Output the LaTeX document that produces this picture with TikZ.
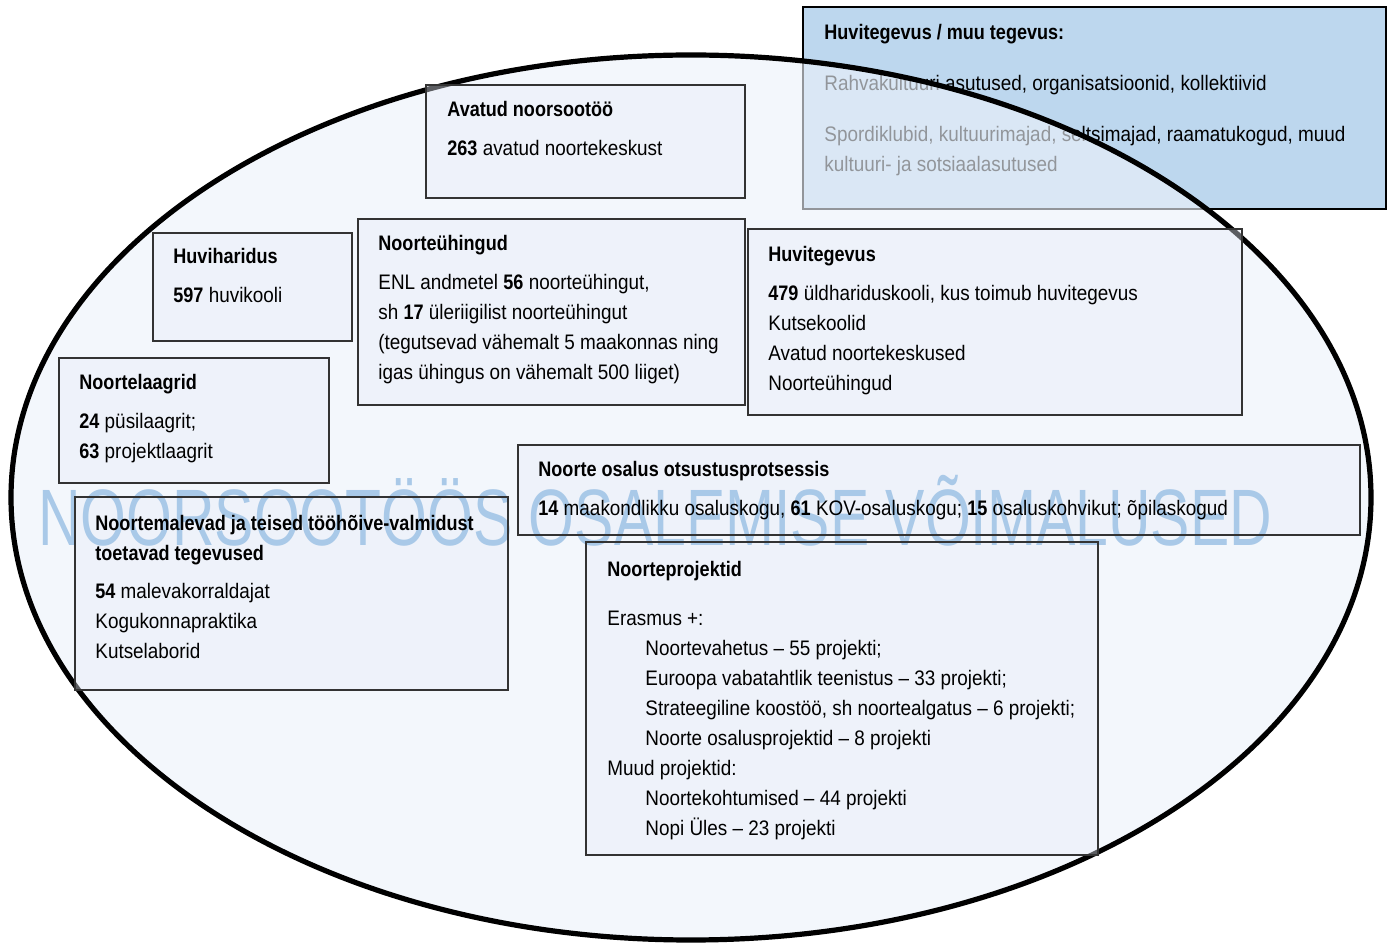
\documentclass[tikz,border=0pt]{standalone}
\usepackage{fontspec}
\setmainfont[FakeStretch=0.9, BoldFeatures={FakeStretch=0.86}]{Liberation Sans}

\definecolor{ellfill}{RGB}{236,242,250}
\definecolor{boxblue}{RGB}{231,236,247}
\definecolor{topblue}{RGB}{189,215,238}
\definecolor{wmblue}{RGB}{169,201,232}

\tikzset{
    panelfill/.style={fill=boxblue, fill opacity=.4},
    panelline/.style={draw=black!80, line width=.6pt},
    toppanel/.style={fill=topblue, draw=black, line width=.6pt},
    txt/.style={anchor=north west, align=left, inner sep=0pt, font=\fontsize{10.5}{15}\selectfont},
    watermark/.style={text=wmblue, inner sep=0pt, font=\fontsize{40}{40}\selectfont, xscale=.818, transform shape}
}

\begin{document}
\begin{tikzpicture}[x=0.5pt,y=-0.5pt]
    \useasboundingbox (0,0) rectangle (1392,945);

    % box outside the ellipse
    \draw[toppanel] (803,7) rectangle (1386,209);
    \node[txt] (muutegevus) at (824,18) {\strut\textbf{Huvitegevus / muu tegevus:}\\[10.5pt]
        Rahvakultuuri asutused, organisatsioonid, kollektiivid\\[10.5pt]
        Spordiklubid, kultuurimajad, seltsimajad, raamatukogud, muud\\
        kultuuri- ja sotsiaalasutused};

    % the ellipse
    \draw[fill=ellfill, fill opacity=.62, draw opacity=1, line width=2.6pt]
        (691,497.5) ellipse [x radius=680, y radius=442.5];

    % box fills
    \fill[panelfill] (426,85) rectangle (745,198);
    \fill[panelfill] (153,233) rectangle (352,341);
    \fill[panelfill] (358,219) rectangle (745,405);
    \fill[panelfill] (748,229) rectangle (1242,415);
    \fill[panelfill] (59,358) rectangle (329,483);
    \fill[panelfill] (518,445) rectangle (1360,535);
    \fill[panelfill] (75,497) rectangle (508,690);
    \fill[panelfill] (586,542) rectangle (1098,855);

    \node[watermark] (pealkiri) at (655,511) {NOORSOOTÖÖS OSALEMISE VÕIMALUSED};

    % box borders
    \draw[panelline] (426,85) rectangle (745,198);
    \draw[panelline] (153,233) rectangle (352,341);
    \draw[panelline] (358,219) rectangle (745,405);
    \draw[panelline] (748,229) rectangle (1242,415);
    \draw[panelline] (59,358) rectangle (329,483);
    \draw[panelline] (518,445) rectangle (1360,535);
    \draw[panelline] (75,497) rectangle (508,690);
    \draw[panelline] (586,542) rectangle (1098,855);

    % texts
    \node[txt] (avatud) at (447,95) {\strut\textbf{Avatud noorsootöö}\\[4.5pt]
        \textbf{263} avatud noortekeskust};
    \node[txt] (huviharidus) at (173,242) {\strut\textbf{Huviharidus}\\[4.5pt]
        \textbf{597} huvikooli};
    \node[txt] (uhingud) at (378,229) {\strut\textbf{Noorteühingud}\\[4.5pt]
        ENL andmetel \textbf{56} noorteühingut,\\
        sh \textbf{17} üleriigilist noorteühingut\\
        (tegutsevad vähemalt 5 maakonnas ning\\
        igas ühingus on vähemalt 500 liiget)};
    \node[txt] (huvitegevus) at (768,240) {\strut\textbf{Huvitegevus}\\[4.5pt]
        \textbf{479} üldhariduskooli, kus toimub huvitegevus\\
        Kutsekoolid\\
        Avatud noortekeskused\\
        Noorteühingud};
    \node[txt] (laagrid) at (79,368) {\strut\textbf{Noortelaagrid}\\[4.5pt]
        \textbf{24} püsilaagrit;\\
        \textbf{63} projektlaagrit};
    \node[txt] (osalus) at (538,455) {\strut\textbf{Noorte osalus otsustusprotsessis}\\[4.5pt]
        \textbf{14} maakondlikku osaluskogu, \textbf{61} KOV-osaluskogu; \textbf{15} osaluskohvikut; õpilaskogud};
    \node[txt] (malevad) at (95,509) {\strut\textbf{Noortemalevad ja teised tööhõive-valmidust}\\
        \textbf{toetavad tegevused}\\[4pt]
        \textbf{54} malevakorraldajat\\
        Kogukonnapraktika\\
        Kutselaborid};
    \node[txt] (projektid) at (607,555) {\strut\textbf{Noorteprojektid}\\[9.5pt]
        Erasmus +:\\
        \hspace*{19pt}Noortevahetus – 55 projekti;\\
        \hspace*{19pt}Euroopa vabatahtlik teenistus – 33 projekti;\\
        \hspace*{19pt}Strateegiline koostöö, sh noortealgatus – 6 projekti;\\
        \hspace*{19pt}Noorte osalusprojektid – 8 projekti\\
        Muud projektid:\\
        \hspace*{19pt}Noortekohtumised – 44 projekti\\
        \hspace*{19pt}Nopi Üles – 23 projekti};
\end{tikzpicture}
\end{document}
